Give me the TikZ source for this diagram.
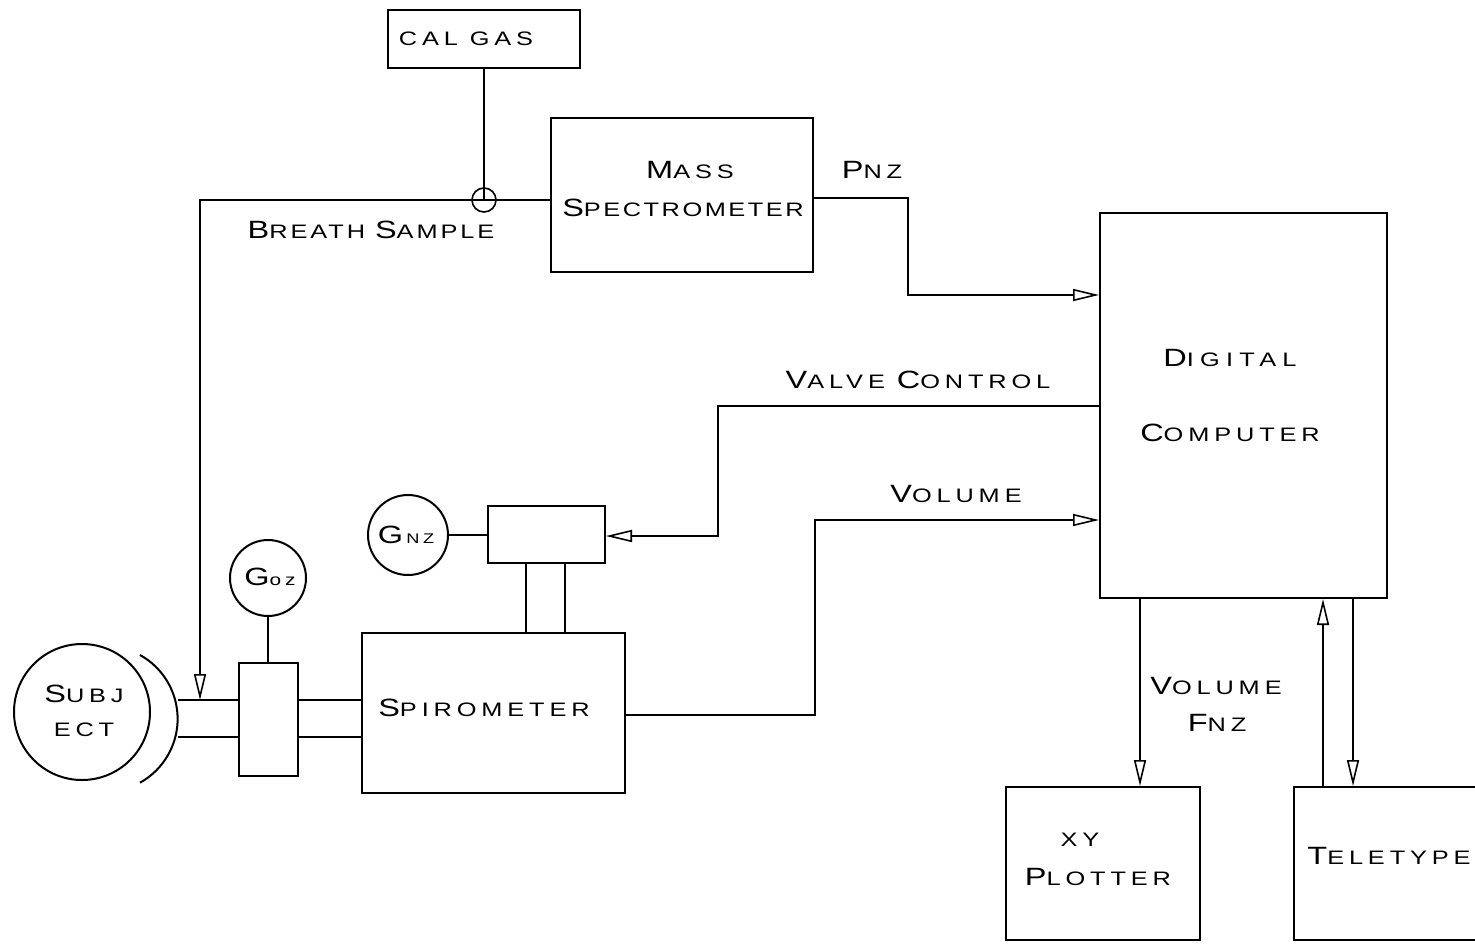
\documentclass[tikz,border=0pt]{standalone}
\usepackage{fontspec}
\setmainfont[FakeStretch=1.3,LetterSpace=25]{Liberation Sans}
\usetikzlibrary{arrows.meta}
\newcommand\Bg[1]{{\fontsize{25}{28}\selectfont #1}}
\begin{document}
\begin{tikzpicture}[x=1pt,y=-1pt,line width=2pt,
  box/.style={draw,rectangle,inner sep=0pt},
  rnd/.style={draw,circle,inner sep=0pt},
  lbl/.style={inner sep=0pt,font=\fontsize{19.5}{30}\selectfont,align=center},
  arr/.style={-{Triangle[open,length=26pt,width=12pt,line width=1.6pt]}}]
\clip (0,0) rectangle (1475,943);
\fill[white] (0,0) rectangle (1475,943);
% boxes
\node[box,minimum width=192pt,minimum height=58pt] (calgas) at (484,39) {};
\node[lbl] at (466,39) {CAL GAS};
\node[box,minimum width=262pt,minimum height=154pt] (mass) at (682,195) {};
\node[lbl] at (690,170) {\Bg{M}ASS};
\node[lbl] at (683,208) {\addfontfeature{LetterSpace=13}\Bg{S}PECTROMETER};
\node[box,minimum width=287pt,minimum height=385pt] (comp) at (1243.5,405.5) {};
\node[lbl] at (1230,358) {\addfontfeature{LetterSpace=32}\Bg{D}IGITAL};
\node[lbl] at (1230,433) {\Bg{C}OMPUTER};
\node[box,minimum width=117pt,minimum height=57pt] (valve) at (546.5,534.5) {};
\node[rnd,minimum size=80pt] (gnz) at (408,535) {};
\node[lbl] at (406,535) {\Bg{G}\,{\fontsize{14}{16}\selectfont NZ}};
\node[rnd,minimum size=76pt] (goz) at (268,578) {};
\node[lbl] at (270,577) {\Bg{G}{\fontsize{16}{16}\selectfont oz}};
\node[box,minimum width=59pt,minimum height=113pt] (gozbox) at (268,719.5) {};
\node[box,minimum width=263pt,minimum height=160pt] (spiro) at (493.5,713) {};
\node[lbl] at (484,708) {\Bg{S}PIROMETER};
\node[rnd,minimum size=136pt] (subj) at (82,712) {};
\node[lbl] at (84,694) {\Bg{S}UBJ};
\node[lbl] at (84,730) {ECT};
\node[box,minimum width=194pt,minimum height=153pt] (xy) at (1103,863.5) {};
\node[lbl] at (1080,840) {XY};
\node[lbl] at (1098,877) {\Bg{P}LOTTER};
\node[box,minimum width=212pt,minimum height=153pt] (tty) at (1400,863.5) {};
\node[lbl] at (1389,856) {\Bg{T}ELETYPE};
% junction
\node[rnd,minimum size=24pt,line width=1.6pt] (junc) at (484,200) {};
% labels
\node[lbl] at (371,230) {\addfontfeature{LetterSpace=15}\Bg{B}REATH \Bg{S}AMPLE};
\node[lbl] at (872,170) {\Bg{P}NZ};
\node[lbl] at (918,380) {\Bg{V}ALVE \Bg{C}ONTROL};
\node[lbl] at (956,494) {\Bg{V}OLUME};
\node[lbl] at (1216,686) {\Bg{V}OLUME};
\node[lbl] at (1217,723) {\Bg{F}NZ};
% coordinates
\coordinate (bsc) at (200,200);
\coordinate (t1) at (178,700);
\coordinate (t2) at (178,737);
\coordinate (p1) at (908,198);
\coordinate (p2) at (908,295);
\coordinate (v1) at (718,406);
\coordinate (v2) at (718,536);
\coordinate (w1) at (815,715);
\coordinate (w2) at (815,520);
\coordinate (s1) at (526,600);
\coordinate (s2) at (565,600);
\coordinate (x1) at (1140,700);
\coordinate (y1) at (1323,700);
\coordinate (y2) at (1353,700);
% connectors
\draw (calgas.south) -- (junc.center);
\draw (junc.center) -- (mass.west |- junc);
\draw[arr] (junc.center) -- (bsc) -- (bsc |- t1);
\draw[arr] (mass.east |- p1) -- (p1) -- (p2) -- (comp.west |- p2);
\draw[arr] (comp.west |- v1) -- (v1) -- (v2) -- (valve.east |- v2);
\draw[arr] (spiro.east |- w1) -- (w1) -- (w2) -- (comp.west |- w2);
\draw (gnz.east) -- (valve.west |- gnz);
\draw (valve.south -| s1) -- (spiro.north -| s1);
\draw (valve.south -| s2) -- (spiro.north -| s2);
\draw (goz.south) -- (gozbox.north);
\draw (t1) -- (gozbox.west |- t1);
\draw (t2) -- (gozbox.west |- t2);
\draw (gozbox.east |- t1) -- (spiro.west |- t1);
\draw (gozbox.east |- t2) -- (spiro.west |- t2);
\draw[arr] (comp.south -| x1) -- (xy.north -| x1);
\draw[arr] (tty.north -| y1) -- (comp.south -| y1);
\draw[arr] (comp.south -| y2) -- (tty.north -| y2);
% subject visor arc
\draw (140,655) arc[start angle=61,end angle=-61,radius=73pt];
\end{tikzpicture}
\end{document}
